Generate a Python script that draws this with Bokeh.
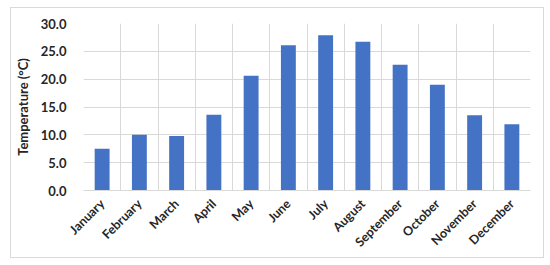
import math
from bokeh.plotting import figure
from bokeh.models import FixedTicker, Range1d
from bokeh.embed import file_html
from bokeh.resources import INLINE

months = ["January", "February", "March", "April", "May", "June", "July",
          "August", "September", "October", "November", "December"]
temps = [7.5, 10.0, 9.8, 13.6, 20.6, 26.1, 27.9, 26.7, 22.6, 19.0, 13.5, 11.9]
y_ticks = [0, 5, 10, 15, 20, 25, 30]

centers = [i + 0.5 for i in range(len(months))]

p = figure(width=534, height=251, output_backend="svg", toolbar_location=None,
           x_range=Range1d(0, len(months)), y_range=Range1d(0, 30),
           min_border_left=71, min_border_right=15, min_border_top=15, min_border_bottom=69)
p.styles = {"border": "1px solid #d9d9d9", "margin-left": "10px", "margin-top": "7px"}
p.outline_line_color = None

p.vbar(x=centers, top=temps, width=0.4, fill_color="#4472c4", line_color=None)

p.xaxis.ticker = FixedTicker(ticks=centers)
p.xaxis.major_label_overrides = {c: m for c, m in zip(centers, months)}
p.xaxis.major_label_orientation = math.pi / 4
p.xaxis.major_tick_line_color = None
p.xaxis.minor_tick_line_color = None
p.xaxis.axis_line_color = "#d9d9d9"
p.xaxis.major_label_standoff = 5
p.xgrid.ticker = FixedTicker(ticks=list(range(len(months) + 1)))
p.xgrid.grid_line_color = "#d9d9d9"

p.yaxis.ticker = FixedTicker(ticks=y_ticks)
p.yaxis.major_label_overrides = {t: f"{t:.1f}" for t in y_ticks}
p.yaxis.axis_line_color = None
p.yaxis.major_tick_line_color = None
p.yaxis.minor_tick_line_color = None
p.yaxis.major_label_standoff = 11
p.ygrid.grid_line_color = "#d9d9d9"
p.yaxis.axis_label = "Temperature (°C)"

for ax in (p.xaxis, p.yaxis):
    ax.major_label_text_font = "Lato"
    ax.major_label_text_font_style = "bold"
    ax.major_label_text_font_size = "13px"
    ax.major_label_text_color = "#262626"
p.xaxis.major_label_text_font_size = "12.5px"
p.yaxis.axis_label_text_font = "Lato"
p.yaxis.axis_label_text_font_style = "bold"
p.yaxis.axis_label_text_font_size = "13px"
p.yaxis.axis_label_text_color = "#262626"
p.yaxis.axis_label_standoff = 7

open("out.html", "w").write(file_html(p, INLINE))
